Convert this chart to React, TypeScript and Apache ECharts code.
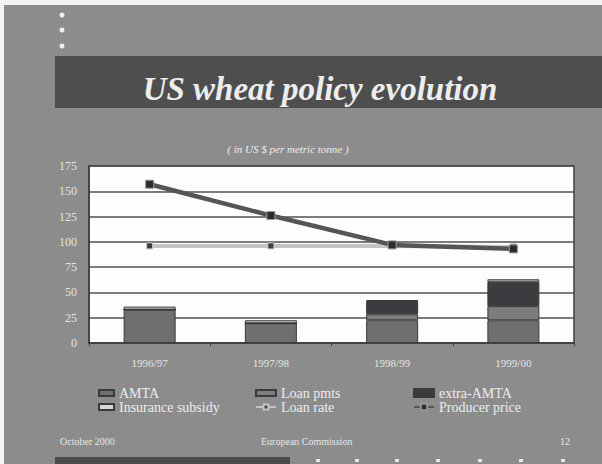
import React, { useEffect, useRef } from "react";
import * as echarts from "echarts";

const categories = ["1996/97", "1997/98", "1998/99", "1999/00"];
const amta = [33, 19.5, 22.5, 22.5];
const loanPmts = [0, 0, 6, 14];
const extraAmta = [0, 0, 13, 24];
const insuranceSubsidy = [3, 3, 1, 2.5];
const loanRate = [96, 96, 96, 95];
const producerPrice = [157, 126, 97, 93];
const yTicks = { min: 0, max: 175, interval: 25 };

const SERIF = "Liberation Serif, DejaVu Serif, serif";

export default function App() {
  const ref = useRef<HTMLDivElement>(null);
  useEffect(() => {
    document.body.style.margin = "0";
    const chart = echarts.init(ref.current!, undefined, { renderer: "svg" });
    const legendText = { color: "#ececec", fontFamily: SERIF, fontSize: 14, lineHeight: 13 };
    const footerDots = [318, 357, 397, 438, 480, 521, 563].map((x) => ({
      type: "rect",
      shape: { x: x - 2, y: 459, width: 4, height: 3 },
      style: { fill: "#e8e8e8" },
      silent: true,
    }));
    const txt = (text: string, x: number, y: number, size: number, extra: any = {}) => ({
      type: "text",
      x,
      y,
      style: {
        text,
        fill: "#e6e6e6",
        fontFamily: SERIF,
        fontSize: size,
        verticalAlign: "middle",
        ...extra,
      },
    });
    chart.setOption({
      animation: false,
      backgroundColor: "#8c8c8c",
      textStyle: { fontFamily: SERIF },
      graphic: [
        { type: "rect", shape: { x: 0, y: 0, width: 602, height: 5 }, style: { fill: "#f4f4f4" }, z: -10 },
        { type: "rect", shape: { x: 0, y: 0, width: 4, height: 464 }, style: { fill: "#f4f4f4" }, z: -10 },
        { type: "circle", shape: { cx: 62, cy: 15, r: 2.5 }, style: { fill: "#f0f0f0" } },
        { type: "circle", shape: { cx: 62, cy: 30, r: 2.5 }, style: { fill: "#f0f0f0" } },
        { type: "circle", shape: { cx: 62, cy: 46, r: 2.5 }, style: { fill: "#f0f0f0" } },
        { type: "rect", shape: { x: 55, y: 56, width: 547, height: 52 }, style: { fill: "#4e4e4e" }, z: -5 },
        txt("US wheat policy evolution", 320, 89, 33, {
          fill: "#ededed",
          fontStyle: "italic",
          fontWeight: "bold",
          align: "center",
        }),
        txt("( in US $ per metric tonne )", 288, 149, 11, { fill: "#ececec", fontStyle: "italic", align: "center" }),
        txt("October 2000", 60, 441, 10),
        txt("European Commission", 261, 441, 10),
        txt("12", 560, 441, 10),
        { type: "rect", shape: { x: 55, y: 457, width: 235, height: 7 }, style: { fill: "#4a4a4a" } },
        ...footerDots,
      ],
      grid: {
        left: 89,
        top: 166,
        right: 28,
        bottom: 121,
        show: true,
        backgroundColor: "#fdfdfd",
        borderColor: "#3e3e3e",
        borderWidth: 1.5,
      },
      legend: [
        {
          left: 93,
          top: 381,
          orient: "vertical",
          itemGap: 0,
          itemWidth: 15,
          itemHeight: 6,
          textStyle: legendText,
          data: [
            { name: "AMTA", icon: "rect" },
            { name: "Insurance subsidy", icon: "rect" },
          ],
        },
        {
          left: 250,
          top: 381,
          orient: "vertical",
          itemGap: 0,
          itemWidth: 20,
          itemHeight: 6,
          textStyle: legendText,
          data: [{ name: "Loan pmts", icon: "rect" }, { name: "Loan rate" }],
        },
        {
          left: 408,
          top: 381,
          orient: "vertical",
          itemGap: 0,
          itemWidth: 20,
          itemHeight: 8,
          textStyle: legendText,
          data: [{ name: "extra-AMTA", icon: "rect" }, { name: "Producer price" }],
        },
      ],
      xAxis: {
        type: "category",
        data: categories,
        boundaryGap: true,
        axisLine: { lineStyle: { color: "#3e3e3e", width: 1.5 } },
        axisTick: { show: true, length: 3, lineStyle: { color: "#3e3e3e" } },
        axisLabel: { color: "#e4e4e4", fontFamily: SERIF, fontSize: 11, margin: 14 },
      },
      yAxis: {
        type: "value",
        min: yTicks.min,
        max: yTicks.max,
        interval: yTicks.interval,
        axisLine: { show: true, lineStyle: { color: "#3e3e3e", width: 1.5 } },
        axisTick: { show: false },
        axisLabel: { color: "#e4e4e4", fontFamily: SERIF, fontSize: 12, margin: 12 },
        splitLine: { lineStyle: { color: "#505050", width: 1.5 } },
      },
      series: [
        {
          name: "AMTA",
          type: "bar",
          stack: "s",
          barWidth: 52,
          data: amta,
          itemStyle: { color: "#6f6f6f", borderColor: "#3a3a3a", borderWidth: 1 },
        },
        {
          name: "Loan pmts",
          type: "bar",
          stack: "s",
          barWidth: 52,
          data: loanPmts,
          itemStyle: { color: "#7c7c7c", borderColor: "#3a3a3a", borderWidth: 1 },
        },
        {
          name: "extra-AMTA",
          type: "bar",
          stack: "s",
          barWidth: 52,
          data: extraAmta,
          itemStyle: { color: "#3d3b40", borderColor: "#3a3a3a", borderWidth: 1 },
        },
        {
          name: "Insurance subsidy",
          type: "bar",
          stack: "s",
          barWidth: 52,
          data: insuranceSubsidy,
          itemStyle: { color: "#d6d6d6", borderColor: "#3a3a3a", borderWidth: 1 },
        },
        {
          name: "Loan rate",
          type: "line",
          data: loanRate,
          symbol: "rect",
          symbolSize: 6,
          lineStyle: { color: "#c4c4c4", width: 4 },
          itemStyle: { color: "#3e3e3e", borderColor: "#c4c4c4", borderWidth: 1 },
          z: 3,
        },
        {
          name: "Producer price",
          type: "line",
          data: producerPrice,
          symbol: "rect",
          symbolSize: 8,
          lineStyle: { color: "#555557", width: 4.5 },
          itemStyle: { color: "#2c2c2e", borderColor: "#9a9a9a", borderWidth: 1 },
          z: 4,
        },
      ],
    });
    return () => chart.dispose();
  }, []);
  return <div ref={ref} style={{ width: 602, height: 464 }} />;
}
